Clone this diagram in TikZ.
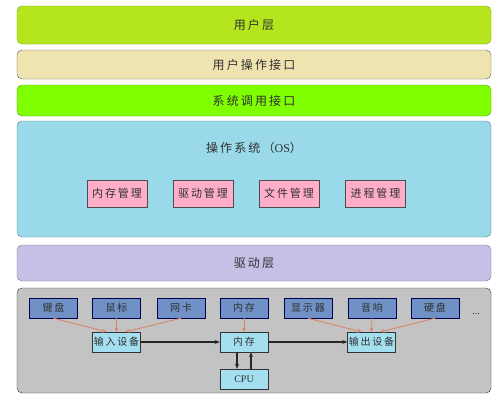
\documentclass[tikz,border=0pt]{standalone}
\usepackage{fontspec}
\setmainfont{Liberation Serif}
\newfontfamily\cjk[LetterSpace=18]{Noto Sans CJK SC}
\usepackage{xcolor}
\usepackage{tikz}
\usetikzlibrary{
    positioning,
    arrows.meta,
}
\definecolor{userc}{HTML}{B5E61D}
\definecolor{opc}{HTML}{EFE4B0}
\definecolor{sysc}{HTML}{80FF00}
\definecolor{osc}{HTML}{99D9EA}
\definecolor{mgmtc}{HTML}{FFAEC9}
\definecolor{drvc}{HTML}{C8BFE7}
\definecolor{hwc}{HTML}{C3C3C3}
\definecolor{devc}{HTML}{6F91C6}
\definecolor{unitc}{HTML}{A3DFEE}
\definecolor{linkc}{HTML}{D9876A}
\definecolor{txtc}{HTML}{303030}
\tikzset{
    % Layer styles
    layer/.style={rectangle, draw=gray!70!black, rounded corners=5pt,
                  minimum width=474pt, inner sep=0pt, text=txtc,
                  font=\cjk\fontsize{12}{14}\selectfont},
    % Box styles
    mgmt box/.style={rectangle, draw=gray!60!black, fill=mgmtc, minimum width=60pt,
                     minimum height=27pt, inner sep=0pt, text=txtc,
                     font=\cjk\fontsize{11}{13}\selectfont},
    dev box/.style={rectangle, draw=blue!30!black, fill=devc, minimum width=48pt,
                    minimum height=20pt, inner sep=0pt, text=txtc,
                    font=\cjk\fontsize{10}{12}\selectfont},
    unit box/.style={dev box, draw=gray!40!black, fill=unitc},
    % Arrow styles
    feed/.style={-{Stealth[length=4pt, width=4pt]}, linkc, line width=0.9pt},
    flow/.style={-{Stealth[length=5pt, width=4pt]}, black!85, line width=1.1pt},
}

\begin{document}
\begin{tikzpicture}[x=1pt, y=-1pt]
    \useasboundingbox[fill=white] (0,0) rectangle (500,402);

    % Layers
    \node[layer, fill=userc, draw=userc!70!black, minimum height=38pt] (user) at (254,25) {用户层};
    \node[layer, fill=opc, minimum height=29pt] (opif) at (254,64.5) {用户操作接口};
    \node[layer, fill=sysc, draw=sysc!60!black, minimum height=31pt] (sysif) at (254,100.5) {系统调用接口};
    \node[layer, fill=osc, draw=osc!60!black, minimum height=116pt] (os) at (254,179) {};
    \node[layer, fill=drvc, draw=drvc!60!black, minimum height=36pt] (drv) at (254,263) {驱动层};
    \node[layer, fill=hwc, draw=gray!40!black, minimum height=105pt] (hw) at (254,340.5) {};

    % OS title and managers
    \node[text=txtc, font=\cjk\fontsize{12}{14}\selectfont] (ostitle) at (254,148)
        {操作系统（{\rmfamily OS}）};
    \node[mgmt box] (memm) at (117,193.5) {内存管理};
    \node[mgmt box] (drvm) at (203,193.5) {驱动管理};
    \node[mgmt box] (filem) at (289,193.5) {文件管理};
    \node[mgmt box] (procm) at (375.5,193.5) {进程管理};

    % Devices
    \node[dev box] (kbd) at (53.5,308) {键盘};
    \node[dev box] (mouse) at (116.5,308) {鼠标};
    \node[dev box] (nic) at (181,308) {网卡};
    \node[dev box] (ram) at (244,308) {内存};
    \node[dev box] (disp) at (308,308) {显示器};
    \node[dev box] (spk) at (372,308) {音响};
    \node[dev box] (hdd) at (435,308) {硬盘};
    \node[text=txtc, font=\fontsize{10}{12}\selectfont] (more) at (476,314) {...};

    % Units
    \node[unit box] (inp) at (116.5,342) {输入设备};
    \node[unit box] (mem) at (244,342) {内存};
    \node[unit box] (outp) at (371.5,342) {输出设备};
    \node[unit box, font=\rmfamily\fontsize{10}{12}\selectfont] (cpu) at (244,379) {CPU};

    % Device links
    \draw[feed] (kbd.south) -- ([xshift=-10pt]inp.north);
    \draw[feed] (mouse.south) -- (inp.north);
    \draw[feed] (nic.south) -- ([xshift=9pt]inp.north);
    \draw[feed] (ram.south) -- (mem.north);
    \draw[feed] (disp.south) -- ([xshift=-10pt]outp.north);
    \draw[feed] (spk.south) -- (outp.north);
    \draw[feed] (hdd.south) -- ([xshift=9pt]outp.north);

    % Data flow
    \draw[flow] (inp.east) -- (mem.west);
    \draw[flow] (mem.east) -- (outp.west);
    \draw[flow] ([xshift=-7pt]mem.south) -- ([xshift=-7pt]cpu.north);
    \draw[flow] ([xshift=7pt]cpu.north) -- ([xshift=7pt]mem.south);
\end{tikzpicture}
\end{document}
